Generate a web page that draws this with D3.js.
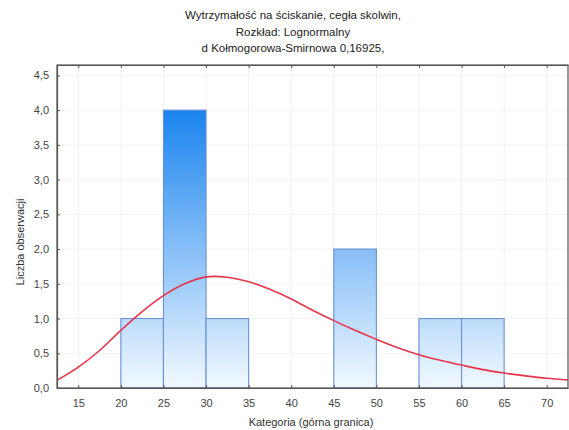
<!DOCTYPE html>
<html>
<head>
<meta charset="utf-8">
<script src="https://cdn.jsdelivr.net/npm/d3@7"></script>
<style>
  body { margin: 0; background: #fff; }
  text { font-family: "Liberation Sans", Arial, sans-serif; }
</style>
</head>
<body>
<script>
// histogram bins (lower, upper) and counts
const binLower = [20, 25, 30, 45, 55, 60];
const binUpper = [25, 30, 35, 50, 60, 65];
const counts = [1, 4, 1, 2, 1, 1];

// fitted lognormal curve
const curveX = [12.5, 15, 17.5, 20, 22.5, 25, 27.5, 30, 32.5, 35, 37.5, 40, 42.5, 45, 47.5, 50, 52.5, 55, 57.5, 60, 62.5, 65, 67.5, 70, 72.5];
const curveY = [0.11, 0.30, 0.54, 0.83, 1.10, 1.33, 1.50, 1.60, 1.595, 1.53, 1.42, 1.28, 1.12, 0.97, 0.83, 0.70, 0.58, 0.48, 0.40, 0.33, 0.265, 0.215, 0.175, 0.14, 0.115];

const xTicks = [15, 20, 25, 30, 35, 40, 45, 50, 55, 60, 65, 70];
const yTicks = [0, 0.5, 1, 1.5, 2, 2.5, 3, 3.5, 4, 4.5];

const titleLines = [
  "Wytrzymałość na ściskanie, cegła skolwin,",
  "Rozkład: Lognormalny",
  "d Kołmogorowa-Smirnowa 0,16925,"
];

const W = 569, H = 430;
const m = { left: 57, right: 1, top: 65, bottom: 42 };

const svg = d3.select("body").append("svg")
    .attr("width", W)
    .attr("height", H);

const x = d3.scaleLinear().domain([12.5, 72.5]).range([m.left, W - m.right]);
const y = d3.scaleLinear().domain([0, 4.65]).range([H - m.bottom, m.top]);

// gradient for the bars
const defs = svg.append("defs");
const grad = defs.append("linearGradient")
    .attr("id", "barGrad")
    .attr("gradientUnits", "userSpaceOnUse")
    .attr("x1", 0).attr("x2", 0)
    .attr("y1", y(0)).attr("y2", y(4));
grad.append("stop").attr("offset", "0%").attr("stop-color", "#f2f9ff");
grad.append("stop").attr("offset", "100%").attr("stop-color", "#1a84ee");

// faint grid
svg.append("g").selectAll("line").data(xTicks).join("line")
    .attr("x1", d => x(d)).attr("x2", d => x(d))
    .attr("y1", y.range()[1]).attr("y2", y.range()[0])
    .attr("stroke", "#f1f1f1");
svg.append("g").selectAll("line").data(yTicks.slice(1)).join("line")
    .attr("x1", m.left).attr("x2", W - m.right)
    .attr("y1", d => y(d)).attr("y2", d => y(d))
    .attr("stroke", "#f4f4f4");

// bars
svg.append("g").selectAll("rect").data(counts).join("rect")
    .attr("x", (d, i) => x(binLower[i]))
    .attr("width", (d, i) => x(binUpper[i]) - x(binLower[i]))
    .attr("y", d => y(d))
    .attr("height", d => y(0) - y(d))
    .attr("fill", "url(#barGrad)")
    .attr("stroke", "#6a90da")
    .attr("stroke-width", 1.1);

// fitted curve
const line = d3.line()
    .x((d, i) => x(curveX[i]))
    .y(d => y(d))
    .curve(d3.curveCatmullRom.alpha(0.5));
svg.append("path")
    .datum(curveY)
    .attr("d", line)
    .attr("fill", "none")
    .attr("stroke", "#e5344c")
    .attr("stroke-width", 1.6);

// axes (ticks inside the box)
const axisColor = "#555";
const xAxis = svg.append("g")
    .attr("transform", `translate(0,${y(0)})`)
    .call(d3.axisBottom(x).tickValues(xTicks).tickSizeInner(-3).tickSizeOuter(0).tickPadding(11));
const yAxis = svg.append("g")
    .attr("transform", `translate(${m.left},0)`)
    .call(d3.axisLeft(y).tickValues(yTicks).tickSizeInner(-3).tickSizeOuter(0).tickPadding(8)
        .tickFormat(d => d3.format(".1f")(d).replace(".", ",")));
svg.append("g")
    .attr("transform", `translate(0,${m.top})`)
    .call(d3.axisTop(x).tickValues(xTicks).tickSizeInner(-3).tickSizeOuter(0).tickFormat(""));

[xAxis, yAxis].forEach(g => {
  g.selectAll("text").attr("fill", "#444").style("font-size", "11px");
});
svg.selectAll(".domain").attr("stroke", axisColor).attr("stroke-width", 1.2);
svg.selectAll(".tick line").attr("stroke", axisColor);

// box
svg.append("rect")
    .attr("x", m.left).attr("y", m.top)
    .attr("width", W - m.right - m.left)
    .attr("height", y(0) - m.top)
    .attr("fill", "none")
    .attr("stroke", axisColor)
    .attr("stroke-width", 1.2);

// titles
svg.append("g").selectAll("text").data(titleLines).join("text")
    .attr("x", 293)
    .attr("y", (d, i) => 19 + i * 16.5)
    .attr("text-anchor", "middle")
    .attr("fill", "#222")
    .style("font-size", "11.5px")
    .text(d => d);

svg.append("text")
    .attr("x", 311).attr("y", 426)
    .attr("text-anchor", "middle")
    .attr("fill", "#333")
    .style("font-size", "11px")
    .text("Kategoria (górna granica)");

svg.append("text")
    .attr("transform", "translate(24,242) rotate(-90)")
    .attr("text-anchor", "middle")
    .attr("fill", "#333")
    .style("font-size", "11px")
    .text("Liczba obserwacji");
</script>
</body>
</html>
